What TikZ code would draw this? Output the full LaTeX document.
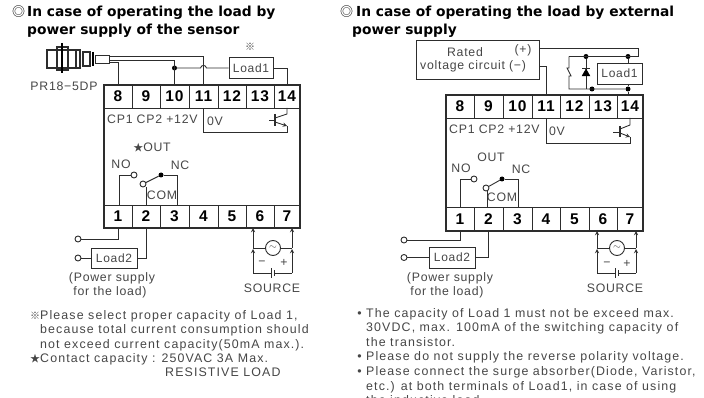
\documentclass[tikz,border=0pt]{standalone}
\usepackage{fontspec}
\setmainfont{Liberation Sans}[LetterSpace=6]
\newfontfamily\titlefont{DejaVu Sans Bold}
\newfontfamily\notefont{Liberation Sans}[LetterSpace=9]
\newfontfamily\symfont{Noto Sans CJK KR}
\usepackage{tikz}
\usetikzlibrary{arrows,shapes,positioning}
\usepackage{xcolor}
\definecolor{wirecol}{RGB}{45,45,45}
\definecolor{textcol}{RGB}{70,70,70}
\tikzstyle{wire} = [line width=0.9pt,color=wirecol]
\tikzstyle{arrow} = [line width=0.9pt,->,>=stealth,color=wirecol]
\tikzstyle{frame} = [line width=1.3pt,color=wirecol]
\tikzstyle{term} = [rectangle, draw=wirecol, line width=0.9pt, inner sep=0pt, minimum height=23pt, text=black, font=\bfseries\fontsize{15.5}{17}\selectfont]
\tikzstyle{loadbox} = [rectangle, draw=wirecol, line width=0.9pt, inner sep=0pt, text=textcol, font=\fontsize{12}{14}\selectfont]
\tikzstyle{lab} = [inner sep=0pt, text=textcol, font=\fontsize{12.3}{14}\selectfont]
\tikzstyle{heading} = [inner sep=0pt, anchor=west, align=left, text=black, font=\titlefont\fontsize{13.8}{18}\selectfont]
\tikzstyle{note} = [inner sep=0pt, anchor=north west, align=left, text=textcol, font=\notefont\fontsize{12.4}{14.6}\selectfont]
\tikzstyle{dot} = [circle, fill=black, inner sep=0pt, minimum size=5pt]
\tikzstyle{hole} = [circle, draw=wirecol, fill=white, line width=0.9pt, inner sep=0pt, minimum size=6pt]
\tikzstyle{acgen} = [circle, draw=wirecol, line width=0.9pt, inner sep=0pt, minimum size=15pt, text=textcol]
\newcommand{\sym}[1]{{\symfont\fontsize{10}{12}\selectfont #1}}
\newcommand{\headsym}{{\symfont\fontsize{13}{14}\selectfont ◎}}

\begin{document}
\begin{tikzpicture}[x=1pt,y=-1pt]
\useasboundingbox (0,0) rectangle (704,398);
% Headings
\node[heading] (headL) at (12,22) {\headsym\hspace{2pt}In case of operating the load by\\\hspace{15pt}power supply of the sensor};
\node[heading] (headR) at (340,22) {\headsym\hspace{3pt}In case of operating the load by external\\\hspace{12pt}power supply};

% Left terminal block
\draw[frame] (104,85) rectangle (300,228);
\foreach \n/\cx/\w in {8/118/28,9/146/28,10/174.5/29,11/203.5/29,12/232/28,13/260/28,14/287/26}
  \node[term, minimum width=\w] (a\n) at (\cx,96.5) {\n};
\foreach \n/\cx/\w in {1/118/28,2/146/28,3/174.5/29,4/203.5/29,5/232/28,6/260/28,7/287/26}
  \node[term, minimum width=\w] (a\n) at (\cx,216.5) {\n};
\node[lab, anchor=west] (cpL) at (107,119) {CP1 CP2 +12V};
\node[lab] (zeroL) at (215,121) {0V};
\node[lab] (outL) at (152,148) {\sym{★}OUT};
\node[lab] (noL) at (121,164) {NO};
\node[lab] (ncL) at (180,165) {NC};
\node[lab] (comL) at (162,195) {COM};
\node[hole] (openL) at (134,175) {};
\node[hole] (wiperL) at (143,184) {};
\node[dot] (fixL) at (161,175) {};
\draw[wire] (wiperL) -- (fixL);
\draw[wire] (openL) -| (119,205);
\draw[wire] (fixL) -| (177,205);
\draw[wire] (wiperL) ++(3,3) -- (146,205);
% Left transistor
\coordinate (colL) at (287,108);
\coordinate (emiL) at (287,132);
\draw[wire] (a11.south) |- (emiL) -- (287,126);
\draw[arrow] (275,122) -- (287,126);
\draw[wire] (275,118) -- (287,114) -- (colL);
\draw[wire,line width=1.3pt] (275,114) -- (275,126);
\draw[wire] (269,120) -- (275,120);

% Sensor
\draw[frame] (47,50) rectangle (68,68);
\draw[frame] (57,47) rectangle (68,70);
\draw[line width=2.4pt,color=black] (62,43) -- (62,73);
\draw[frame] (68,50) -- (80,50) -- (80,68) -- (68,68);
\draw[frame] (76,50) -- (76,68);
\draw[frame] (83,52) rectangle (90,66);
\draw[line width=2.4pt,color=black] (93,52) -- (93,66);
\draw[wire] (95,55) -- (109,55) -- (109,63) -- (95,63) -- cycle;
\coordinate (wireA) at (109,56);
\coordinate (wireB) at (109,60);
\coordinate (wireC) at (109,62);
\node[lab] (modelL) at (64,86) {PR18−5DP};
\node[dot] (juncL) at (174.5,68) {};
\node[loadbox, minimum width=44pt, minimum height=21pt] (loadA) at (251,68) {Load1};
\node[lab] (markL) at (250,47) {\sym{※}};
\draw[wire] (wireA) -| (a11.north);
\draw[wire] (wireB) -| (a10.north);
\draw[wire] (wireC) -| (a8.north);
\draw[wire] (juncL) -- (200.5,68) .. controls (201.5,64.5) and (205.5,64.5) .. (206.5,68) -- (loadA);
\draw[wire] (loadA) -| (a14.north);

% Left load wiring
\node[hole] (inAL) at (78,239) {};
\node[hole] (inBL) at (78,258) {};
\node[loadbox, minimum width=46pt, minimum height=20pt] (loadB) at (114,258) {Load2};
\draw[wire] (a1.south) |- (inAL);
\draw[wire] (a2.south) |- (loadB);
\draw[wire] (loadB) -- (inBL);
\node[lab] (supA) at (112,278) {(Power supply};
\node[lab] (supB) at (110,292) {for the load)};

% Left source
\coordinate (pinAL) at (253,228);
\coordinate (pinBL) at (292,228);
\node[acgen] (acL) at (273,248) {$\sim$};
\coordinate (midAL) at (253,248);
\coordinate (midBL) at (292,248);
\coordinate (botAL) at (253,273);
\coordinate (botBL) at (292,273);
\draw[arrow] (midAL) -- (pinAL);
\draw[arrow] (midBL) -- (pinBL);
\draw[wire] (midAL) -- (acL) -- (midBL);
\draw[arrow] (botAL) -- (253,249);
\draw[arrow] (botBL) -- (292,249);
\draw[wire] (botAL) -- (271,273) (271,268) -- (271,278);
\draw[wire] (274,270) -- (274,276) (274,273) -- (botBL);
\node[lab] (minusL) at (262,263) {−};
\node[lab] (plusL) at (284,263) {+};
\node[lab] (srcL) at (272,288) {SOURCE};

% Left notes
\node[note] (noteA) at (40,310) {\llap{\sym{※}}Please select proper capacity of Load 1,\\because total current consumption should\\not exceed current capacity(50mA max.).\\[-0.6pt]\llap{\sym{★}}Contact capacity : 250VAC 3A Max.\\\hspace{125pt}RESISTIVE LOAD};

% Right terminal block
\draw[frame] (446,95) rectangle (643,231);
\foreach \n/\cx/\w in {8/460/28,9/488.5/29,10/517.5/29,11/546/28,12/574.5/29,13/603/28,14/630/26}
  \node[term, minimum width=\w] (b\n) at (\cx,106.5) {\n};
\foreach \n/\cx/\w in {1/460/28,2/488.5/29,3/517.5/29,4/546/28,5/574.5/29,6/603/28,7/630/26}
  \node[term, minimum width=\w] (b\n) at (\cx,219) {\n};
\node[lab, anchor=west] (cpR) at (449,129) {CP1 CP2 +12V};
\node[lab] (zeroR) at (557,131) {0V};
\node[lab] (outR) at (491,157) {OUT};
\node[lab] (noR) at (461,168) {NO};
\node[lab] (ncR) at (521,169) {NC};
\node[lab] (comR) at (502,197) {COM};
\node[hole] (openR) at (474,179) {};
\node[hole] (wiperR) at (486,188) {};
\node[dot] (fixR) at (502,179) {};
\draw[wire] (wiperR) -- (fixR);
\draw[wire] (openR) -| (460,207);
\draw[wire] (fixR) -| (518,207);
\draw[wire] (wiperR) ++(1,3) -- (487,207);
% Right transistor
\coordinate (colR) at (630,118);
\coordinate (emiR) at (630,143);
\draw[wire] (b11.south) |- (emiR) -- (630,137);
\draw[arrow] (620,133) -- (630,137);
\draw[wire] (620,129) -- (630,125) -- (colR);
\draw[wire,line width=1.3pt] (620,126) -- (620,137);
\draw[wire] (613,132) -- (620,132);

% Rated voltage circuit
\node[rectangle, draw=wirecol, line width=0.9pt, minimum width=123pt, minimum height=39pt] (rated) at (477.5,59.5) {};
\node[lab] (ratedA) at (465,52) {Rated};
\node[lab] (ratedB) at (523,50) {(+)};
\node[lab, anchor=west] (ratedC) at (420,66) {voltage circuit (−)};
\coordinate (plusR) at (539,48);
\coordinate (cornerR) at (638,48);
\coordinate (minusR) at (539,66);
\node[dot] (topA) at (586,56.5) {};
\node[dot] (topB) at (628,56.5) {};
\node[dot] (botA) at (592,89) {};
\node[dot] (botB) at (628,89) {};
\node[loadbox, minimum width=45pt, minimum height=21pt] (loadC) at (619.5,73.5) {Load1};
\coordinate (zenT) at (569,56.5);
\coordinate (zenB) at (569,89);
\draw[wire] (plusR) -- (cornerR) |- (zenT);
\draw[wire] (minusR) -| (b11.north);
\draw[wire] (zenT) -- (569,68) -- (567,68) -- (571,76) -- (569,76) -- (zenB) -- (botB);
\draw[wire] (topA) -- (586,89);
\draw[fill=black,color=black] (582,76) -- (590,76) -- (586,69) -- cycle;
\draw[wire] (582,68.5) -- (590,68.5);
\draw[wire] (topB) -- (628,63);
\draw[wire] (628,84) -- (botB);
\draw[wire] (botB) -- (628,95);

% Right load wiring
\node[hole] (inAR) at (404,240) {};
\node[hole] (inBR) at (404,257.5) {};
\node[loadbox, minimum width=46pt, minimum height=21pt] (loadD) at (452,257.5) {Load2};
\draw[wire] (b1.south) |- (inAR);
\draw[wire] (b2.south) |- (loadD);
\draw[wire] (loadD) -- (inBR);
\node[lab] (supC) at (450,278) {(Power supply};
\node[lab] (supD) at (447,292) {for the load)};

% Right source
\coordinate (pinAR) at (597,231);
\coordinate (pinBR) at (636,231);
\node[acgen] (acR) at (617,248) {$\sim$};
\coordinate (midAR) at (597,248);
\coordinate (midBR) at (636,248);
\coordinate (botAR) at (597,273);
\coordinate (botBR) at (636,273);
\draw[arrow] (midAR) -- (pinAR);
\draw[arrow] (midBR) -- (pinBR);
\draw[wire] (midAR) -- (acR) -- (midBR);
\draw[arrow] (botAR) -- (597,249);
\draw[arrow] (botBR) -- (636,249);
\draw[wire] (botAR) -- (615,273) (615,268) -- (615,278);
\draw[wire] (618,270) -- (618,276) (618,273) -- (botBR);
\node[lab] (minusR2) at (607,264) {−};
\node[lab] (plusR2) at (627,264) {+};
\node[lab] (srcR) at (615,288) {SOURCE};

% Right notes
\node[note] (noteB) at (366,308) {\llap{• }The capacity of Load 1 must not be exceed max.\\30VDC, max. 100mA of the switching capacity of\\the transistor.\\\llap{• }Please do not supply the reverse polarity voltage.\\\llap{• }Please connect the surge absorber(Diode, Varistor,\\etc.) at both terminals of Load1, in case of using\\the inductive load.};
\end{tikzpicture}
\end{document}
